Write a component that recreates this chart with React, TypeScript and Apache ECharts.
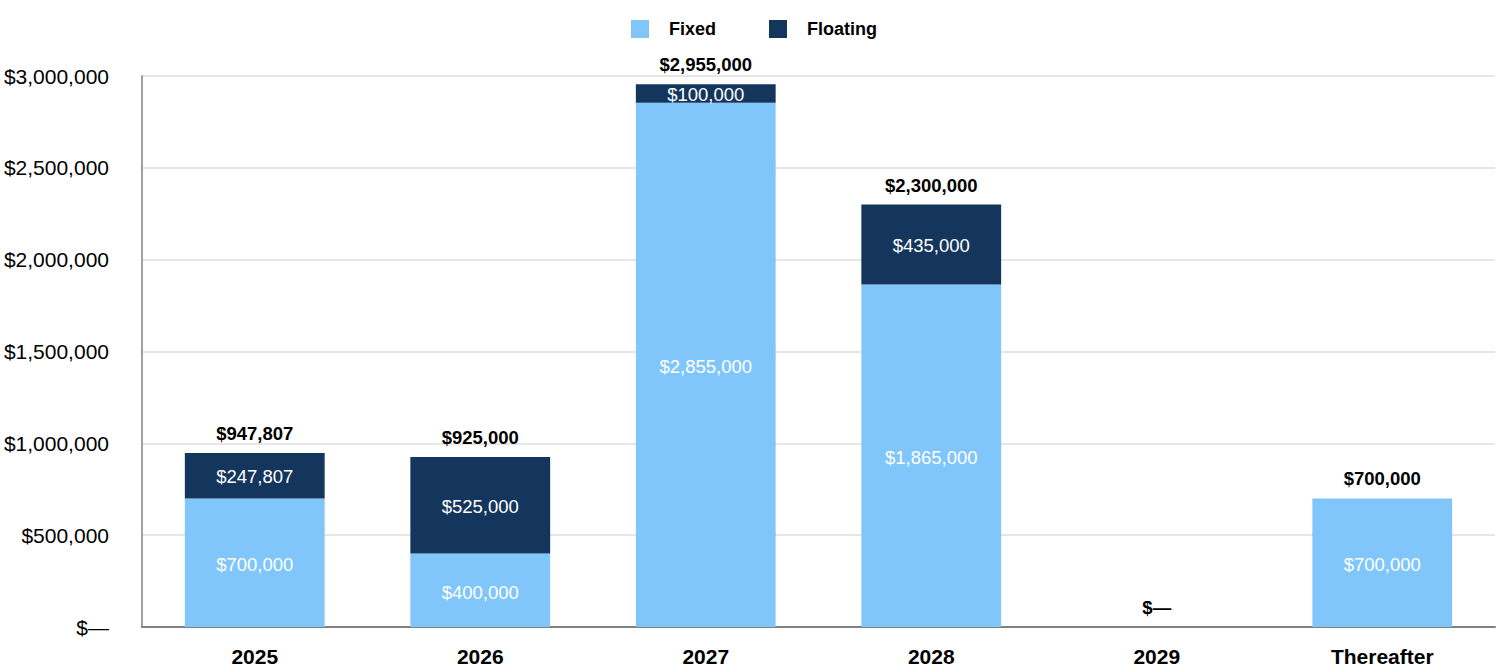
import React, { useEffect, useRef } from "react";
import * as echarts from "echarts";

const categories = ["2025", "2026", "2027", "2028", "2029", "Thereafter"];
const fixedValues = [700000, 400000, 2855000, 1865000, 0, 700000];
const floatingValues = [247807, 525000, 100000, 435000, 0, 0];
const totalValues = [947807, 925000, 2955000, 2300000, 0, 700000];
const yTicks = [0, 500000, 1000000, 1500000, 2000000, 2500000, 3000000];

const FONT = "Liberation Sans, Arial, sans-serif";

function money(v: number): string {
  if (!v) return "$\u2014";
  return "$" + v.toLocaleString("en-US");
}

export default function App() {
  const ref = useRef<HTMLDivElement>(null);
  useEffect(() => {
    document.body.style.margin = "0";
    if (!ref.current) return;
    const chart = echarts.init(ref.current, undefined, { renderer: "svg" });
    chart.setOption({
      animation: false,
      textStyle: { fontFamily: FONT },
      legend: {
        top: 15,
        left: 626,
        itemWidth: 18,
        itemHeight: 18,
        itemGap: 53,
        icon: "rect",
        data: ["Fixed", "Floating"],
        textStyle: {
          fontFamily: FONT,
          fontSize: 18,
          fontWeight: "bold",
          color: "#000",
          padding: [0, 0, 0, 15],
        },
      },
      grid: { left: 142, right: 5, top: 76, bottom: 45, containLabel: false },
      xAxis: {
        type: "category",
        data: categories,
        axisTick: { show: false },
        axisLine: { show: true, lineStyle: { color: "#808080", width: 2 } },
        axisLabel: {
          margin: 19,
          fontFamily: FONT,
          fontSize: 21,
          fontWeight: "bold",
          color: "#000",
        },
      },
      yAxis: {
        type: "value",
        min: yTicks[0],
        max: yTicks[yTicks.length - 1],
        interval: yTicks[1] - yTicks[0],
        axisLine: { show: true, lineStyle: { color: "#a0a0a0", width: 2 } },
        axisTick: { show: false },
        splitLine: { lineStyle: { color: "#e6e6e6", width: 2 } },
        axisLabel: {
          margin: 33,
          fontFamily: FONT,
          fontSize: 21,
          color: "#000",
          formatter: (v: number) => money(v),
        },
      },
      series: [
        {
          name: "Fixed",
          type: "bar",
          stack: "total",
          barWidth: "62%",
          data: fixedValues,
          itemStyle: { color: "#80c6fb" },
          label: {
            show: true,
            position: "inside",
            offset: [0, 2],
            color: "#fff",
            fontFamily: FONT,
            fontSize: 18.5,
            formatter: (p: any) => (p.value ? money(p.value) : ""),
          },
        },
        {
          name: "Floating",
          type: "bar",
          stack: "total",
          data: floatingValues,
          itemStyle: { color: "#14365d" },
          label: {
            show: true,
            position: "inside",
            offset: [0, 1],
            color: "#fff",
            fontFamily: FONT,
            fontSize: 18.5,
            formatter: (p: any) => (p.value ? money(p.value) : ""),
          },
        },
        {
          name: "Total",
          type: "bar",
          stack: "total",
          data: totalValues.map(() => 0),
          itemStyle: { color: "transparent" },
          label: {
            show: true,
            position: "top",
            distance: 10,
            color: "#000",
            fontFamily: FONT,
            fontSize: 18.5,
            fontWeight: "bold",
            formatter: (p: any) => money(totalValues[p.dataIndex]),
          },
        },
      ],
    });
    return () => chart.dispose();
  }, []);
  return <div ref={ref} style={{ width: 1500, height: 672 }} />;
}
